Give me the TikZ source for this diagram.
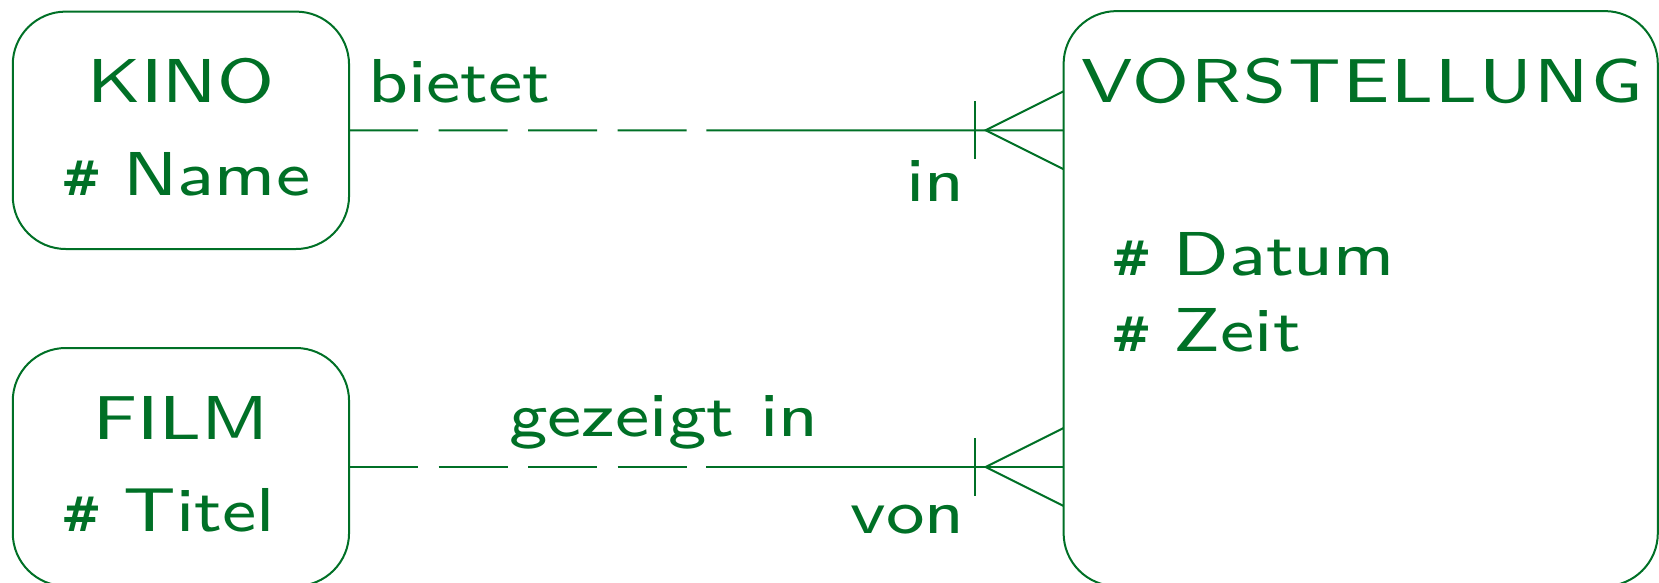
\documentclass[tikz,border=0pt]{standalone}
\usepackage{fontspec}
\newfontfamily\ersf{lmsans8-regular.otf}[FakeStretch=1.17]
\newfontfamily\ersfwide{lmsans8-regular.otf}[FakeStretch=1.17,LetterSpace=3.4]
\newfontfamily\hashf{DejaVu Sans}
\newcommand{\hsh}{{\hashf\bfseries\fontsize{48}{58}\selectfont\#}\hspace{22pt}}
\usetikzlibrary{calc}
\definecolor{ergreen}{RGB}{0,112,38}
\tikzset{
  entity/.style={draw=ergreen, line width=2pt, rounded corners=53pt, inner sep=0pt, outer sep=0pt},
  lbl/.style={text=ergreen, inner sep=0pt, font=\ersf\fontsize{62}{74}\selectfont},
  rel/.style={draw=ergreen, line width=2pt},
  optpart/.style={rel, dash pattern=on 69pt off 20.5pt},
}
\begin{document}
\begin{tikzpicture}[x=1pt,y=-1pt]
\useasboundingbox (0,0) rectangle (1659,583);
\clip (0,0) rectangle (1659,583);
% entities
\node[entity, minimum width=336.3pt, minimum height=237.4pt] (kino) at (180.9,130.3) {};
\node[entity, minimum width=336.3pt, minimum height=238pt] (film) at (180.9,467) {};
\node[entity, minimum width=594.2pt, minimum height=575pt] (vorst) at (1360.7,298.6) {};
% texts
\node[lbl, anchor=base] (tkino) at (181,102.7) {KINO};
\node[lbl, anchor=base west] (tname) at (61,195) {\hsh Name};
\node[lbl, anchor=base] (tfilm) at (181,439) {FILM};
\node[lbl, anchor=base west] (ttitel) at (61,531.7) {\hsh Titel};
\node[lbl, anchor=base west, font=\ersfwide\fontsize{62}{74}\selectfont] (tvorst) at (1081,102.2) {VORSTELLUNG};
\node[lbl, anchor=base west] (tdatum) at (1111,275.8) {\hsh Datum};
\node[lbl, anchor=base west] (tzeit) at (1111,351) {\hsh Zeit};
\node[lbl, anchor=base west] (tbietet) at (368,102.7) {bietet};
\node[lbl, anchor=base east] (tin) at (965,201.7) {in};
\node[lbl, anchor=base west] (tgezeigt) at (509,436) {gezeigt in};
\node[lbl, anchor=base east] (tvon) at (965,533) {von};
% relationship KINO - VORSTELLUNG
\coordinate (e1) at (kino.east -| vorst.west);
\coordinate (m1) at ($(kino.east)!0.5!(e1)$);
\draw[optpart] (kino.east) -- (m1);
\draw[rel] (m1) -- (e1);
\draw[rel] ($(e1)+(-89,-29)$) -- ($(e1)+(-89,29)$);
\draw[rel] ($(e1)+(0,-39)$) -- ($(e1)+(-78,0)$) -- ($(e1)+(0,39)$);
% relationship FILM - VORSTELLUNG
\coordinate (e2) at (film.east -| vorst.west);
\coordinate (m2) at ($(film.east)!0.5!(e2)$);
\draw[optpart] (film.east) -- (m2);
\draw[rel] (m2) -- (e2);
\draw[rel] ($(e2)+(-89,-29)$) -- ($(e2)+(-89,29)$);
\draw[rel] ($(e2)+(0,-39)$) -- ($(e2)+(-78,0)$) -- ($(e2)+(0,39)$);
\end{tikzpicture}
\end{document}
